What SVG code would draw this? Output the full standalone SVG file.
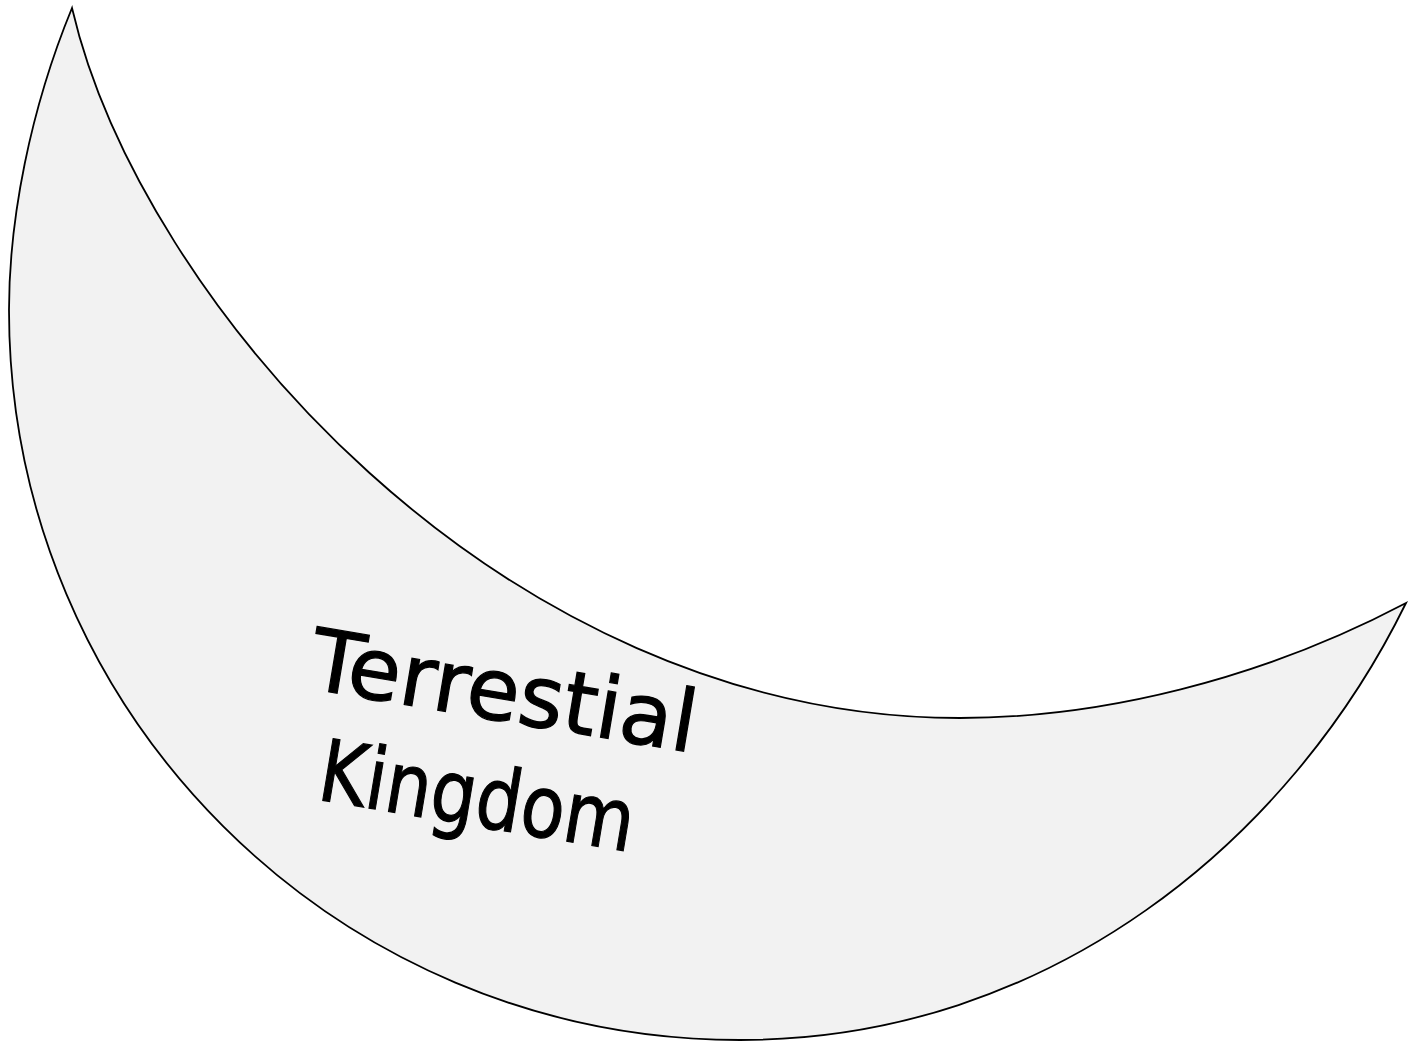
<svg xmlns="http://www.w3.org/2000/svg" width="1408" height="1044" viewBox="0 0 1408 1044">
<style>
.shape{fill:#f2f2f2;stroke:#000;stroke-width:1.8}
.lbl{font-family:"Comic Sans MS","DejaVu Sans","Liberation Sans",sans-serif;font-size:86px;fill:#000;stroke:#000;stroke-width:1.2}
</style>
<rect width="1408" height="1044" fill="#fff"/>
<g id="crescent">
<path class="shape" d="M72,8 C30,110 9,220 9,310 C9,713 336,1040 740,1040 C1050,1040 1290,840 1406,603 C1260,680 1100,718 960,718 C500,718 140,300 72,8 Z"/>
</g>
<g id="label" transform="translate(305,688) rotate(9.5)">
<text class="lbl" x="197" y="0" text-anchor="middle" textLength="390" lengthAdjust="spacingAndGlyphs">Terrestial</text>
<text class="lbl" x="188" y="108" text-anchor="middle" textLength="318" lengthAdjust="spacingAndGlyphs">Kingdom</text>
</g>
</svg>
